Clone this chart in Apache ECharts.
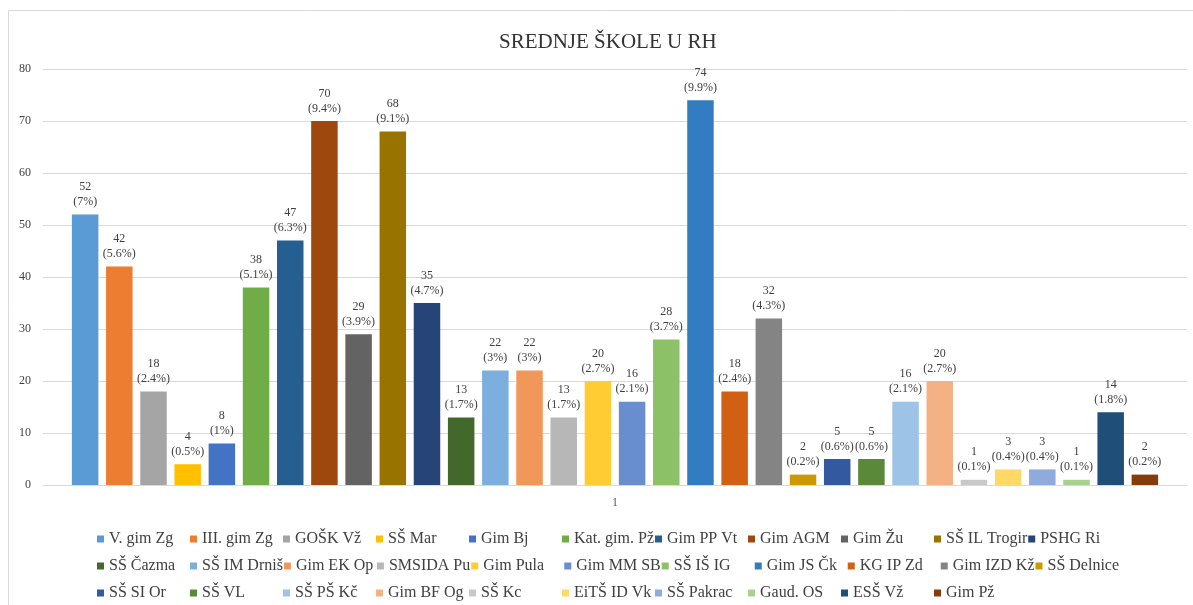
<!DOCTYPE html>
<html>
<head>
<meta charset="utf-8">
<script src="https://cdn.jsdelivr.net/npm/echarts@6/dist/echarts.min.js"></script>
<style>
html,body{margin:0;padding:0;background:#fff;}
#chart{width:1193px;height:605px;}
</style>
</head>
<body>
<div id="chart"></div>
<script>
const categories = ['1'];
const schoolNames = ['V. gim Zg','III. gim Zg','GOŠK Vž','SŠ Mar','Gim Bj','Kat. gim. Pž','Gim PP Vt','Gim AGM','Gim Žu','SŠ IL Trogir','PSHG Ri',
  'SŠ Čazma','SŠ IM Drniš','Gim EK Op','SMSIDA Pu','Gim Pula','Gim MM SB','SŠ IŠ IG','Gim JS Čk','KG IP Zd','Gim IZD Kž','SŠ Delnice',
  'SŠ SI Or','SŠ VL','SŠ PŠ Kč','Gim BF Og','SŠ Kc','EiTŠ ID Vk','SŠ Pakrac','Gaud. OS','ESŠ Vž','Gim Pž'];
const schoolValues = [52,42,18,4,8,38,47,70,29,68,35,
  13,22,22,13,20,16,28,74,18,32,2,
  5,5,16,20,1,3,3,1,14,2];
const schoolPercents = ['7%','5.6%','2.4%','0.5%','1%','5.1%','6.3%','9.4%','3.9%','9.1%','4.7%',
  '1.7%','3%','3%','1.7%','2.7%','2.1%','3.7%','9.9%','2.4%','4.3%','0.2%',
  '0.6%','0.6%','2.1%','2.7%','0.1%','0.4%','0.4%','0.1%','1.8%','0.2%'];
const yTicks = [0,10,20,30,40,50,60,70,80];
const colors = ['#5B9BD5','#ED7D31','#A5A5A5','#FFC000','#4472C4','#70AD47','#255E91','#9E480E','#636363','#997300','#264478',
  '#43682B','#7CAFDD','#F1975A','#B7B7B7','#FFCD33','#698ED0','#8CC168','#327DC2','#D26012','#848484','#CC9A00',
  '#335AA1','#5A8A39','#9DC3E6','#F4B183','#C9C9C9','#FFD966','#8FAADC','#A9D18E','#1F4E79','#843C0C'];

const FONT = '"Liberation Serif", "Times New Roman", serif';
const chart = echarts.init(document.getElementById('chart'));
const series = schoolNames.map((name, i) => ({
  name: name,
  type: 'bar',
  data: [schoolValues[i]],
  barWidth: 26.5,
  barGap: '29%',
  itemStyle: { color: colors[i] },
  label: {
    show: true,
    position: 'top',
    distance: 5,
    fontFamily: FONT,
    fontSize: 12,
    lineHeight: 15,
    color: '#404040',
    formatter: (p) => p.value + '\n(' + schoolPercents[i] + ')'
  }
}));

chart.setOption({
  animation: false,
  color: colors,
  title: {
    text: 'SREDNJE ŠKOLE U RH',
    left: 494,
    top: 27,
    textStyle: { fontFamily: FONT, fontSize: 21, fontWeight: 'normal', color: '#333' }
  },
  graphic: [{
    type: 'rect',
    shape: { x: 8.5, y: 10.5, width: 1200, height: 620 },
    style: { fill: 'none', stroke: '#D9D9D9', lineWidth: 1 },
    silent: true
  }],
  grid: { left: 43, right: 6, top: 69, bottom: 120, containLabel: false },
  xAxis: {
    type: 'category',
    data: categories,
    axisLine: { show: true, lineStyle: { color: '#D9D9D9', width: 1 } },
    axisTick: { show: false },
    axisLabel: { fontFamily: FONT, fontSize: 12, color: '#595959', margin: 12 }
  },
  yAxis: {
    type: 'value',
    min: yTicks[0],
    max: yTicks[yTicks.length - 1],
    interval: 10,
    axisLine: { show: false },
    axisTick: { show: false },
    splitLine: { lineStyle: { color: '#D9D9D9', width: 1 } },
    axisLabel: { fontFamily: FONT, fontSize: 12, color: '#404040', margin: 12 }
  },
  legend: {
    data: schoolNames,
    left: 92,
    top: 521,
    width: 1040,
    orient: 'horizontal',
    itemWidth: 7,
    itemHeight: 7,
    itemGap: 1,
    icon: 'rect',
    textStyle: { fontFamily: FONT, fontSize: 16, color: '#404040', width: 80, lineHeight: 26 }
  },
  series: series
});
</script>
</body>
</html>
